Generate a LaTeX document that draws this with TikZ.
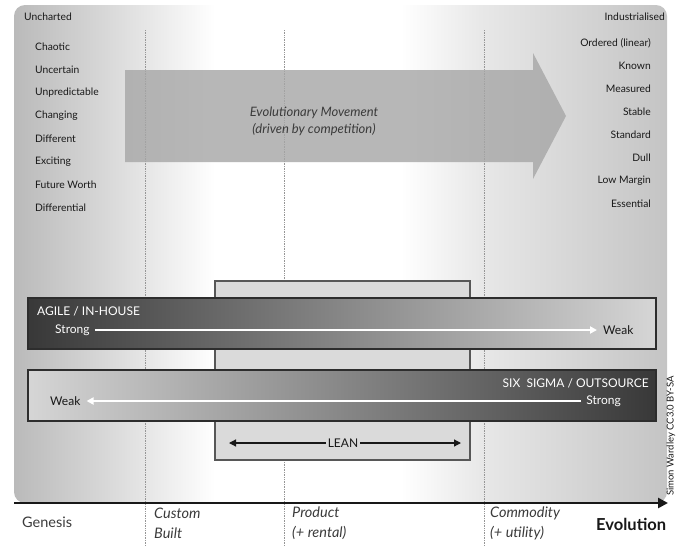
\documentclass[tikz,border=0pt]{standalone}
\usepackage{fontspec}
\setmainfont{Lato}
\usetikzlibrary{arrows.meta}

\definecolor{bgL}{RGB}{186,186,186}
\definecolor{bgA}{RGB}{214,214,214}
\definecolor{bgB}{RGB}{232,232,232}
\definecolor{bgR}{RGB}{196,196,196}
\definecolor{ink}{RGB}{24,24,24}
\definecolor{dotgray}{RGB}{150,150,150}
\definecolor{movegray}{RGB}{166,166,166}
\definecolor{barDark}{RGB}{56,56,56}
\definecolor{barLight}{RGB}{214,214,214}
\definecolor{leanfill}{RGB}{218,218,218}
\definecolor{edge}{RGB}{45,45,45}

% backdrop: grey at both ends, white across the middle
\pgfdeclarehorizontalshading{backdrop}{100bp}{%
  color(0bp)=(bgL); color(25bp)=(bgL); color(31.6bp)=(bgA);
  color(40.4bp)=(white); color(54.6bp)=(white); color(60.7bp)=(bgB);
  color(75bp)=(bgR); color(100bp)=(bgR)}

\tikzset{
  trait/.style={font=\fontsize{10.3}{11}\selectfont, text=ink, inner sep=0pt},
  lefttrait/.style={trait, anchor=west},
  righttrait/.style={trait, anchor=east},
  stage/.style={font=\fontsize{14.5}{20}\selectfont\itshape, text=ink!85, inner sep=0pt, anchor=west, align=left},
  stageline/.style={dotgray, densely dotted, line width=0.7pt},
  bar/.style={draw=edge, line width=1.2pt},
  bartitle/.style={font=\fontsize{12}{14}\selectfont, text=white, inner sep=0pt},
  barend/.style={font=\fontsize{12}{14}\selectfont, inner sep=0pt},
  barflow/.style={white, line width=2.2pt, -{Triangle[length=7pt,width=7pt]}, shorten <=5pt, shorten >=6pt},
}

\begin{document}
\begin{tikzpicture}[x=1pt, y=-1pt]
\useasboundingbox (0,0) rectangle (677,546);

% backdrop panel
\path[shading=backdrop, rounded corners=11pt] (14,5) rectangle (667,503);

% stage separators
\foreach \sx in {145,284,484}
  \draw[stageline] (\sx,30) -- (\sx,546);

% evolutionary movement arrow
\fill[movegray, fill opacity=0.8]
  (125,70) -- (533,70) -- (533,53) -- (566,116) -- (533,179) -- (533,162) -- (125,162) -- cycle;
\node[font=\fontsize{13}{17}\selectfont\itshape, text=ink!85, align=center] (move)
  at (314,121) {Evolutionary Movement\\(driven by competition)};

% left-hand traits
\node[trait, anchor=west] (uncharted) at (24,17) {Uncharted};
\node[lefttrait] (l1) at (35,47) {Chaotic};
\node[lefttrait] (l2) at (35,70) {Uncertain};
\node[lefttrait] (l3) at (35,93) {Unpredictable};
\node[lefttrait] (l4) at (35,116) {Changing};
\node[lefttrait] (l5) at (35,139) {Different};
\node[lefttrait] (l6) at (35,162) {Exciting};
\node[lefttrait] (l7) at (35,185) {Future Worth};
\node[lefttrait] (l8) at (35,208) {Differential};

% right-hand traits
\node[trait, anchor=east] (industrialised) at (665,17) {Industrialised};
\node[righttrait] (r1) at (651,43) {Ordered (linear)};
\node[righttrait] (r2) at (651,66) {Known};
\node[righttrait] (r3) at (651,89) {Measured};
\node[righttrait] (r4) at (651,112) {Stable};
\node[righttrait] (r5) at (651,135) {Standard};
\node[righttrait] (r6) at (651,158) {Dull};
\node[righttrait] (r7) at (651,181) {Low Margin};
\node[righttrait] (r8) at (651,204) {Essential};

% lean box behind the two bars
\draw[draw=edge!80, line width=1.2pt, fill=leanfill] (215,281) rectangle (470,460);

% agile / in-house bar
\draw[bar, left color=barDark, right color=barLight] (28,298) rectangle (656,349);
\node[bartitle, anchor=west] (agile) at (37,311) {AGILE / IN-HOUSE};
\node[barend, text=white, anchor=west] (agileS) at (55,330) {Strong};
\node[barend, text=ink, anchor=west] (agileW) at (603,330) {Weak};
\draw[barflow] (agileS) -- (agileW);

% six sigma / outsource bar
\draw[bar, left color=barLight, right color=barDark] (28,370) rectangle (656,421);
\node[bartitle, anchor=east] (sigma) at (649,383) {SIX\ \ SIGMA / OUTSOURCE};
\node[barend, text=white, anchor=east] (sigmaS) at (621,401) {Strong};
\node[barend, text=ink, anchor=west] (sigmaW) at (50,401) {Weak};
\draw[barflow] (sigmaS) -- (sigmaW);

% lean span
\node[font=\fontsize{12}{14}\selectfont, text=ink, inner sep=2pt] (lean) at (343,443) {LEAN};
\coordinate (leanL) at (229,443);
\coordinate (leanR) at (461,443);
\draw[ink, line width=1.2pt, -{Triangle[length=7pt,width=7pt]}] (lean) -- (leanL);
\draw[ink, line width=1.2pt, -{Triangle[length=7pt,width=7pt]}] (lean) -- (leanR);

% evolution axis
\coordinate (axisL) at (14,503);
\coordinate (axisR) at (668,503);
\draw[ink, line width=2.6pt, -{Triangle[length=10pt,width=10pt]}] (axisL) -- (axisR);

% stages
\node[stage, font=\fontsize{14.5}{20}\selectfont] (genesis) at (22,522) {Genesis};
\node[stage] (custom) at (154,523) {Custom\\Built};
\node[stage] (product) at (292,523) {Product\\(+ rental)};
\node[stage] (commodity) at (490,523) {Commodity\\(+ utility)};
\node[font=\fontsize{16.5}{18}\selectfont\bfseries, text=ink, anchor=west, inner sep=0pt] (evolution) at (596,524) {Evolution};

% attribution
\node[font=\fontsize{9.5}{10}\selectfont, text=ink, rotate=90, inner sep=0pt] (credit) at (671,436) {Simon Wardley CC3.0 BY-SA};
\end{tikzpicture}
\end{document}
